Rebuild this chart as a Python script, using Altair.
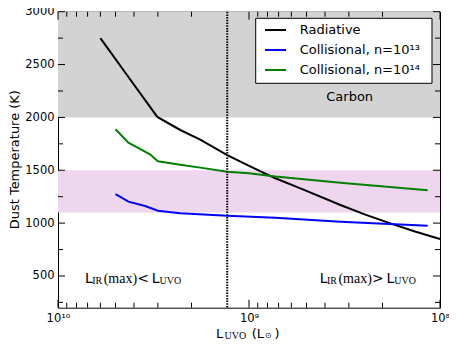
import altair as alt
import pandas as pd

# ---------------- data ----------------
series_names = ["Radiative", "Collisional, n=10¹³", "Collisional, n=10¹⁴"]
series_colors = ["#000000", "#0000ff", "#008000"]

rad_L = [6.0e9, 4.27e9, 3.02e9, 2.29e9, 1.8e9, 1.30e9, 9.8e8, 7.28e8, 5.38e8, 3.32e8, 2.46e8, 1.82e8, 1.34e8, 1.0e8]
rad_T = [2750, 2380, 2005, 1881, 1790, 1644, 1534, 1424, 1329, 1171, 1080, 998, 918, 849]

c13_L = [5.0e9, 4.28e9, 3.5e9, 3.0e9, 2.29e9, 1.3e9, 7.28e8, 3.32e8, 1.16e8]
c13_T = [1275, 1203, 1162, 1117, 1093, 1070, 1051, 1013, 975]

c14_L = [5.0e9, 4.28e9, 3.3e9, 3.0e9, 2.29e9, 1.8e9, 1.3e9, 1.0e9, 7.28e8, 3.32e8, 1.16e8]
c14_T = [1888, 1761, 1651, 1585, 1553, 1525, 1486, 1471, 1440, 1382, 1310]

band_lo = [1100, 2000]
band_hi = [1500, 3000]
band_colors = ["#efd6ef", "#d3d3d3"]

divide_L = [1.3e9]

x_major = [1e8, 1e9, 1e10]
x_minor = [2e8, 3e8, 4e8, 5e8, 6e8, 7e8, 8e8, 9e8, 2e9, 3e9, 4e9, 5e9, 6e9, 7e9, 8e9, 9e9]
y_major = [500, 1000, 1500, 2000, 2500, 3000]
y_minor = [250, 750, 1250, 1750, 2250, 2750]

# ---------------- layout ----------------
W, H = 382, 296
SANS = "DejaVu Sans"
SERIF = "Liberation Serif"

rows = []
for name, Ls, Ts in zip(series_names, [rad_L, c13_L, c14_L], [rad_T, c13_T, c14_T]):
    for l, t in zip(Ls, Ts):
        rows.append({"series": name, "L": l, "T": t})
lines_df = pd.DataFrame(rows)

xscale = alt.Scale(type="log", domain=[1e8, 1e10], reverse=True)
yscale = alt.Scale(domain=[200, 3000], nice=False, zero=False)

x_axis = alt.Axis(values=x_major,
                  labelExpr="datum.value >= 5e9 ? '10¹⁰' : datum.value >= 5e8 ? '10⁹' : '10⁸'",
                  ticks=False, domain=False, grid=False, labelFlush=False, labelOverlap=False,
                  labelPadding=5, labelFontSize=11.5, labelFont=SANS, labelColor="black", title=None)
y_axis = alt.Axis(values=y_major, format="d", ticks=False, domain=False, grid=False, labelFlush=False,
                  labelOverlap=False, labelPadding=4, labelFontSize=11.5, labelFont=SANS,
                  labelColor="black", title=None)


def X(field):
    return alt.X(field, scale=xscale, axis=x_axis, title=None)


def Y(field):
    return alt.Y(field, scale=yscale, axis=y_axis, title=None)


bands = alt.Chart(pd.DataFrame({"lo": band_lo, "hi": band_hi, "c": band_colors})).mark_rect().encode(
    x=alt.value(0), x2=alt.value(W),
    y=Y("lo:Q"), y2="hi:Q",
    color=alt.Color("c:N", scale=None),
)

lines = alt.Chart(lines_df).mark_line(strokeWidth=2).encode(
    x=X("L:Q"),
    y=Y("T:Q"),
    color=alt.Color("series:N", scale=alt.Scale(domain=series_names, range=series_colors), legend=None),
    detail="series:N",
)

divider = alt.Chart(pd.DataFrame({"L": divide_L})).mark_rule(
    color="black", strokeWidth=2, strokeDash=[1.5, 1.2]).encode(x=X("L:Q"))

layers = [bands, lines, divider]


def xticks(vals, length):
    df = pd.DataFrame({"L": vals})
    bottom = alt.Chart(df).mark_rule(color="black", strokeWidth=1).encode(
        x=X("L:Q"), y=alt.value(H), y2=alt.value(H - length))
    top = alt.Chart(df).mark_rule(color="black", strokeWidth=1).encode(
        x=X("L:Q"), y=alt.value(0), y2=alt.value(length))
    return [bottom, top]


def yticks(vals, length):
    df = pd.DataFrame({"T": vals})
    left = alt.Chart(df).mark_rule(color="black", strokeWidth=1).encode(
        y=Y("T:Q"), x=alt.value(0), x2=alt.value(length))
    right = alt.Chart(df).mark_rule(color="black", strokeWidth=1).encode(
        y=Y("T:Q"), x=alt.value(W), x2=alt.value(W - length))
    return [left, right]


layers += xticks(x_major, 8) + xticks(x_minor, 5) + yticks(y_major, 7) + yticks(y_minor, 5)


def txt(s, x, y, size, font=SANS, align="left", baseline="alphabetic", angle=0):
    kw = dict(font=font, fontSize=size, align=align, baseline=baseline, color="black")
    if angle:
        kw["angle"] = angle
    return alt.Chart(pd.DataFrame({"t": [s]})).mark_text(**kw).encode(
        text="t:N", x=alt.value(x), y=alt.value(y))


# axis titles
layers.append(txt("Dust Temperature (K)", -43.5, H / 2, 13, align="center", baseline="middle", angle=270))
layers += [
    txt("L", 158, 326.6, 13),
    txt("UVO", 166.5, 327.8, 10, font=SERIF),
    txt("(L", 193.7, 326.6, 13),
    txt("⊙", 207, 324.3, 8, baseline="middle"),
    txt(")", 216.5, 326.6, 13),
]


# region annotations
def annotation(x0, sign):
    b = 271
    return [
        txt("L", x0, b, 14),
        txt("IR", x0 + 7.2, b + 1, 10, font=SERIF),
        txt("(max)", x0 + 18.7, b, 14, font=SERIF),
        txt(sign, x0 + 52.3, b, 14),
        txt("L", x0 + 66.7, b, 14),
        txt("UVO", x0 + 74.6, b + 1, 10, font=SERIF),
    ]


layers += annotation(27, "<")
layers += annotation(261.7, ">")

layers.append(txt("Carbon", 291.7, 85, 13, align="center", baseline="middle"))

# legend
layers.append(alt.Chart(pd.DataFrame({"a": [0]})).mark_rect(fill="white", stroke="black", strokeWidth=1).encode(
    x=alt.value(197.7), x2=alt.value(374), y=alt.value(6.6), y2=alt.value(71.6)))
for i, (name, col) in enumerate(zip(series_names, series_colors)):
    yy = 18.3 + 20 * i
    layers.append(alt.Chart(pd.DataFrame({"a": [0]})).mark_rule(color=col, strokeWidth=2).encode(
        x=alt.value(207), x2=alt.value(228), y=alt.value(yy)))
    layers.append(txt(name, 241.7, yy, 13, baseline="middle"))

chart = alt.layer(*layers).properties(
    width=W, height=H,
    autosize=alt.AutoSizeParams(type="none"),
    padding={"left": 50, "top": 3.7, "right": 9, "bottom": 33},
).configure_view(stroke="black", strokeWidth=1)

chart.save("out.html", embed_options={"renderer": "svg", "actions": False})
